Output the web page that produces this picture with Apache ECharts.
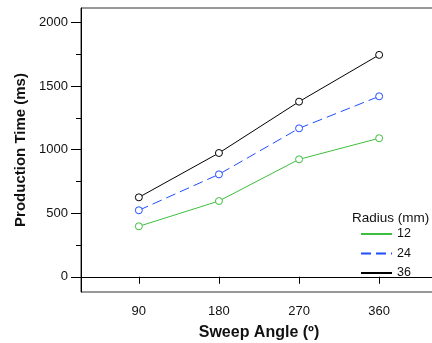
<!DOCTYPE html>
<html><head><meta charset="utf-8">
<script src="https://cdn.jsdelivr.net/npm/echarts@6/dist/echarts.min.js"></script>
<style>html,body{margin:0;padding:0;background:#fff}#c{width:432px;height:343px}</style>
</head><body><div id="c"></div>
<script>
const sweepAngles = [90, 180, 270, 360];
const radius12 = [397, 596, 924, 1090];
const radius24 = [523, 806, 1168, 1420];
const radius36 = [625, 974, 1378, 1746];
const yMajorTicks = [0, 500, 1000, 1500, 2000];
const yMinorTicks = [250, 750, 1250, 1750];
const seriesNames = ['12', '24', '36'];

const font = 'Liberation Sans, Arial, sans-serif';
const chart = echarts.init(document.getElementById('c'));
function pts(v){ return sweepAngles.map((a,i)=>[a, v[i]]); }
function ser(name, data, color, type){
  return {
    name, type:'line', data: pts(data), yAxisIndex:0,
    symbol:'circle', symbolSize:7, showSymbol:true,
    itemStyle:{color:'#fff', borderColor:color, borderWidth:1},
    lineStyle:{color, width:1, type},
    emphasis:{disabled:true}, animation:false
  };
}
chart.setOption({
  animation:false,
  title:{text:'Radius (mm)', left:352, top:211, padding:0, textStyle:{fontFamily:font, fontSize:13.5, fontWeight:'normal', color:'#111'}},
  legend:{
    orient:'vertical', left:360, top:227.5, padding:0, itemWidth:31, itemHeight:12, itemGap:6.5,
    data: seriesNames,
    itemStyle:{opacity:0},
    textStyle:{fontFamily:font, fontSize:12.5, color:'#111'}
  },
  grid:{left:81, top:8, width:356, height:284, outerBoundsMode:'none', containLabel:false, show:true, borderColor:'#333', borderWidth:1},
  xAxis:{
    type:'value', min:25, max:425,
    name:'Sweep Angle (º)', nameLocation:'middle', nameGap:33,
    nameTextStyle:{fontFamily:font, fontSize:16, fontWeight:'bold', color:'#111'},
    axisLine:{show:true, lineStyle:{color:'#000', width:1}},
    axisTick:{show:true, length:7, customValues:sweepAngles, lineStyle:{color:'#000'}},
    axisLabel:{customValues:sweepAngles, margin:13, fontFamily:font, fontSize:13, color:'#111'},
    splitLine:{show:false}
  },
  yAxis:[{
    type:'value', min:-120, max:2115,
    name:'Production Time (ms)', nameLocation:'middle', nameGap:48,
    nameTextStyle:{fontFamily:font, fontSize:15, fontWeight:'bold', color:'#111'},
    axisLine:{show:true, lineStyle:{color:'#000', width:1}},
    axisTick:{show:true, length:10, customValues:yMajorTicks, lineStyle:{color:'#000'}},
    axisLabel:{customValues:yMajorTicks, margin:13, fontFamily:font, fontSize:13, color:'#111', formatter:(v)=>String(v)},
    splitLine:{show:false}
  },{
    type:'value', min:-120, max:2115, position:'left',
    axisLine:{show:false},
    axisTick:{show:true, length:5, customValues:yMinorTicks, lineStyle:{color:'#000'}},
    axisLabel:{show:false},
    splitLine:{show:false}
  }],
  series:[
    ser('12', radius12, '#3cbf3c', 'solid'),
    ser('24', radius24, '#1f4dff', [10,5]),
    ser('36', radius36, '#000000', 'solid')
  ]
});
</script></body></html>
